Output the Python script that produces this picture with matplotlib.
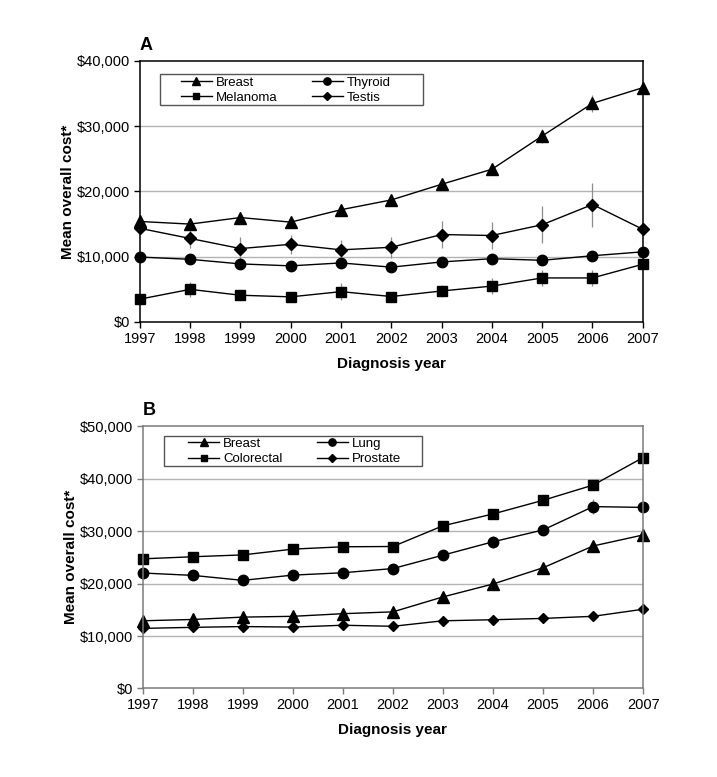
import numpy as np
import matplotlib
matplotlib.use("Agg")
import matplotlib.pyplot as plt
from matplotlib.patches import Rectangle
from matplotlib.ticker import FuncFormatter

plt.rcParams["font.family"] = ["Liberation Sans", "DejaVu Sans"]

years = np.arange(1997, 2008)

# Panel A
breast_a = [15400, 15000, 16000, 15300, 17200, 18700, 21100, 23400, 28500, 33500, 35900]
breast_a_err = [400, 400, 400, 400, 500, 700, 750, 700, 1050, 1350, 600]
thyroid_a = [9950, 9600, 8900, 8600, 9050, 8400, 9200, 9700, 9450, 10150, 10750]
thyroid_a_err = [300, 300, 300, 300, 300, 300, 300, 300, 300, 300, 300]
melanoma_a = [3500, 5000, 4100, 3850, 4650, 3900, 4750, 5500, 6750, 6750, 8850]
melanoma_a_err = [600, 1200, 700, 600, 1250, 700, 900, 1200, 1200, 1200, 600]
testis_a = [14350, 12800, 11250, 11900, 11050, 11450, 13400, 13250, 14900, 18000, 14200]
testis_a_err = [500, 1400, 1780, 1450, 1580, 1580, 2100, 2000, 2800, 3370, 500]

# Panel B
breast_b = [12900, 13150, 13600, 13750, 14250, 14600, 17450, 19900, 23000, 27150, 29250]
breast_b_err = [400, 400, 400, 400, 400, 400, 500, 500, 600, 700, 600]
lung_b = [22000, 21550, 20600, 21600, 22050, 22850, 25400, 27950, 30200, 34650, 34500]
lung_b_err = [500, 500, 500, 500, 500, 900, 1000, 1100, 950, 1500, 600]
colorectal_b = [24700, 25100, 25450, 26550, 27000, 27050, 31000, 33250, 35850, 38750, 44000]
colorectal_b_err = [400, 400, 400, 400, 400, 400, 500, 500, 500, 900, 600]
prostate_b = [11450, 11650, 11800, 11700, 12050, 11850, 12900, 13100, 13350, 13750, 15100]
prostate_b_err = [300, 300, 300, 300, 300, 300, 300, 300, 300, 300, 300]

money = FuncFormatter(lambda v, pos: "${:,.0f}".format(v))


def draw_panel(ax, series, ymax, letter, spine_color):
    for ax_y in np.arange(10000, ymax, 10000):
        ax.axhline(ax_y, color="#b4b4b4", lw=1.0, zorder=0)
    handles = {}
    for name, vals, errs, marker, ms in series:
        ax.errorbar(years, vals, yerr=errs, fmt="none", ecolor="#8c8c8c",
                    elinewidth=0.9, capsize=0, zorder=1)
        (line,) = ax.plot(years, vals, color="black", lw=1.0, marker=marker,
                          ms=ms, mfc="black", mec="black", zorder=2,
                          clip_on=False, label=name)
        handles[name] = line
    ax.set_xlim(1997, 2007)
    ax.set_ylim(0, ymax)
    ax.set_xticks(years)
    ax.set_yticks(np.arange(0, ymax + 1, 10000))
    ax.yaxis.set_major_formatter(money)
    ax.tick_params(axis="both", labelsize=10.5, direction="out", length=4,
                   width=1.0, color=spine_color, pad=3)
    for side in ["left", "bottom", "top", "right"]:
        ax.spines[side].set_color(spine_color)
        ax.spines[side].set_linewidth(1.1)
    ax.set_xlabel("Diagnosis year", fontsize=11, fontweight="bold", labelpad=8)
    ax.set_ylabel("Mean overall cost*", fontsize=11, fontweight="bold", labelpad=1)
    ax.text(0.0, 1.042, letter, transform=ax.transAxes, fontsize=13,
            fontweight="bold", ha="left", va="baseline")
    return handles


def add_legend(ax, handles, names, box, anchor):
    # Excel-style box, wider than its entries
    x0, y0, x1, y1 = box
    ax.add_patch(Rectangle((x0, y0), x1 - x0, y1 - y0, transform=ax.transAxes,
                           facecolor="white", edgecolor="#555555", lw=1.0,
                           zorder=3))
    leg = ax.legend([handles[n] for n in names], names,
                    ncol=2, loc="upper left", bbox_to_anchor=anchor,
                    borderaxespad=0, fontsize=9.5, frameon=False,
                    handlelength=2.35, markerscale=0.7, columnspacing=2.6,
                    borderpad=0, labelspacing=0.22, handletextpad=0.3)
    leg.set_zorder(4)


fig = plt.figure(figsize=(7.17, 7.77), dpi=100)

ax_a = fig.add_axes([0.195, 0.5856, 0.7015, 0.336])
h = draw_panel(ax_a, [
    ("Breast", breast_a, breast_a_err, "^", 8),
    ("Thyroid", thyroid_a, thyroid_a_err, "o", 7.5),
    ("Melanoma", melanoma_a, melanoma_a_err, "s", 7),
    ("Testis", testis_a, testis_a_err, "D", 6.5),
], 40000, "A", "black")
add_legend(ax_a, h, ["Breast", "Melanoma", "Thyroid", "Testis"],
           (0.040, 0.831, 0.563, 0.950), (0.0815, 0.940))

ax_b = fig.add_axes([0.199, 0.1139, 0.698, 0.3378])
h = draw_panel(ax_b, [
    ("Breast", breast_b, breast_b_err, "^", 8),
    ("Lung", lung_b, lung_b_err, "o", 7.5),
    ("Colorectal", colorectal_b, colorectal_b_err, "s", 7),
    ("Prostate", prostate_b, prostate_b_err, "D", 5.5),
], 50000, "B", "#7a7a7a")
add_legend(ax_b, h, ["Breast", "Colorectal", "Lung", "Prostate"],
           (0.0425, 0.848, 0.558, 0.962), (0.091, 0.955))

fig.savefig("out.png", dpi=100)
